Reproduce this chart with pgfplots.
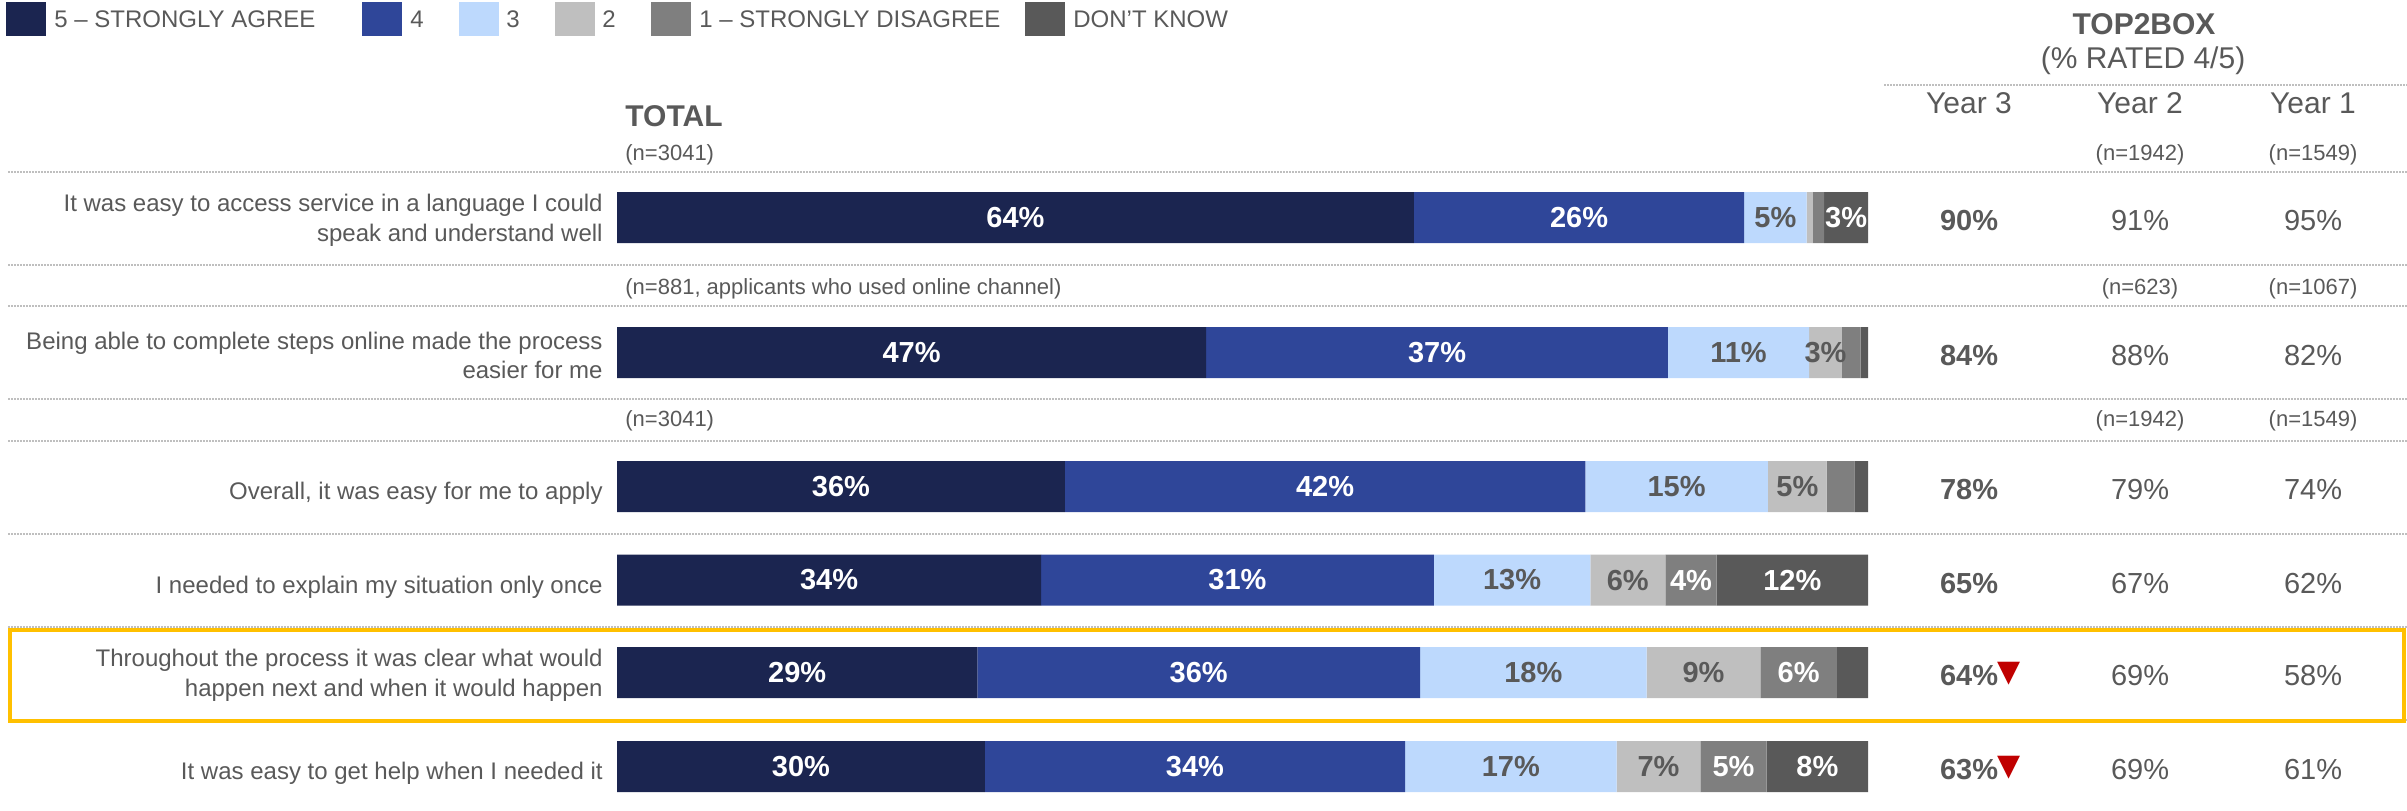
\documentclass[border=0pt]{standalone}
\usepackage{fontspec}
\setmainfont{Liberation Sans}
\newfontfamily\symfont{DejaVu Sans}
\usepackage{pgfplots}
\usepackage{pgfplotstable}
\pgfplotsset{compat=1.18}

\definecolor{cfive}{HTML}{1B2550}
\definecolor{cfour}{HTML}{2F4699}
\definecolor{cthree}{HTML}{BDD9FD}
\definecolor{ctwo}{HTML}{BFBFBF}
\definecolor{cone}{HTML}{7F7F7F}
\definecolor{cdk}{HTML}{595959}
\definecolor{txt}{HTML}{595959}
\definecolor{hl}{HTML}{FFC000}
\definecolor{down}{HTML}{C00000}
\definecolor{rulec}{HTML}{BFBFBF}

% y = row centre (px from top), v = segment share (%), lab = printed label (n = none)
\pgfplotstableread{
y v lab
217.5 63.7 64
352.5 47.1 47
486.5 35.8 36
580.0 33.9 34
672.5 28.8 29
766.5 29.4 30
}\tfive
\pgfplotstableread{
y v lab
217.5 26.4 26
352.5 36.9 37
486.5 41.6 42
580.0 31.4 31
672.5 35.4 36
766.5 33.6 34
}\tfour
\pgfplotstableread{
y v lab
217.5 5.0 5
352.5 11.3 11
486.5 14.6 15
580.0 12.5 13
672.5 18.1 18
766.5 16.9 17
}\tthree
\pgfplotstableread{
y v lab
217.5 0.5 n
352.5 2.6 3
486.5 4.7 5
580.0 6.0 6
672.5 9.1 9
766.5 6.7 7
}\ttwo
\pgfplotstableread{
y v lab
217.5 0.9 n
352.5 1.5 n
486.5 2.2 n
580.0 4.1 4
672.5 6.1 6
766.5 5.3 5
}\tone
\pgfplotstableread{
y v lab
217.5 3.5 3
352.5 0.6 n
486.5 1.1 n
580.0 12.1 12
672.5 2.5 n
766.5 8.1 8
}\tdk

\newcommand\barlab[1]{\edef\tmpa{#1}\def\tmpb{n}\ifx\tmpa\tmpb\else\tmpa\%\fi}

\pgfplotsset{
  seg/.style n args={2}{fill=#1, draw=none,
    nodes near coords={\barlab{\pgfplotspointmeta}},
    point meta=explicit symbolic,
    every node near coord/.append style={anchor=center, text=#2,
      font=\fontsize{14.5}{16}\selectfont\bfseries, inner sep=0pt},
  },
}

\begin{document}
\begin{tikzpicture}
\begin{scope}[x=0.5pt,y=-0.5pt]
\path[use as bounding box] (0,0) rectangle (2407,810);
\foreach \yy in {172,265,306,399,441,534,627,720}
  \draw[rulec, line width=0.75pt, dash pattern=on 0.75pt off 0.75pt] (8,\yy) -- (2407,\yy);
\draw[rulec, line width=0.75pt, dash pattern=on 0.75pt off 0.75pt] (1884,85) -- (2407,85);
\end{scope}

\begin{axis}[at={(308.5pt,0pt)}, anchor=north west, scale only axis,
  width=625.5pt, height=405pt, xmin=0, xmax=100, ymin=0, ymax=810,
  y dir=reverse, hide axis, xbar stacked, bar width=25.5pt,
  clip=false, enlargelimits=false]
\addplot[seg={cfive}{white}] table[x=v,y=y,meta=lab]{\tfive};
\addplot[seg={cfour}{white}] table[x=v,y=y,meta=lab]{\tfour};
\addplot[seg={cthree}{txt}] table[x=v,y=y,meta=lab]{\tthree};
\addplot[seg={ctwo}{txt}] table[x=v,y=y,meta=lab]{\ttwo};
\addplot[seg={cone}{white}] table[x=v,y=y,meta=lab]{\tone};
\addplot[seg={cdk}{white}] table[x=v,y=y,meta=lab]{\tdk};
\end{axis}

\begin{scope}[x=0.5pt,y=-0.5pt]
% legend
\foreach \xx/\cc in {6/cfive,362/cfour,459/cthree,555/ctwo,651/cone,1025/cdk}
  \fill[\cc] (\xx,2) rectangle ++(40,34);
\begin{scope}[every node/.style={anchor=base west, inner sep=0pt, text=txt, font=\fontsize{12}{14}\selectfont}]
\node at (54,27) {5 – STRONGLY AGREE};
\node at (410,27) {4};
\node at (506,27) {3};
\node at (602,27) {2};
\node at (699,27) {1 – STRONGLY DISAGREE};
\node at (1073,27) {DON’T KNOW};
\end{scope}

% headers
\node[anchor=base west, inner sep=0pt, text=txt, font=\fontsize{15}{17}\selectfont\bfseries] at (625,126) {TOTAL};
\node[anchor=base, inner sep=0pt, text=txt, font=\fontsize{15}{17}\selectfont\bfseries] at (2144,34) {TOP2BOX};
\node[anchor=base, inner sep=0pt, text=txt, font=\fontsize{15}{17}\selectfont] at (2143,68) {(\% RATED 4/5)};
\begin{scope}[every node/.style={anchor=base, inner sep=0pt, text=txt, font=\fontsize{15}{17}\selectfont}]
\node at (1969,113) {Year 3};
\node at (2140,113) {Year 2};
\node at (2313,113) {Year 1};
\end{scope}

% sample sizes
\begin{scope}[every node/.style={inner sep=0pt, text=txt, font=\fontsize{11}{13}\selectfont}]
\node[anchor=base west] at (625,160) {(n=3041)};
\node[anchor=base] at (2140,160) {(n=1942)};
\node[anchor=base] at (2313,160) {(n=1549)};
\node[anchor=base west] at (625,294) {(n=881, applicants who used online channel)};
\node[anchor=base] at (2140,294) {(n=623)};
\node[anchor=base] at (2313,294) {(n=1067)};
\node[anchor=base west] at (625,426) {(n=3041)};
\node[anchor=base] at (2140,426) {(n=1942)};
\node[anchor=base] at (2313,426) {(n=1549)};
\end{scope}

% row labels
\begin{scope}[every node/.style={anchor=east, align=right, inner sep=0pt, text=txt, font=\fontsize{12}{14.75}\selectfont}]
\node at (603,220.5) {It was easy to access service in a language I could\\speak and understand well};
\node at (603,355.5) {Being able to complete steps online made the process\\easier for me};
\node at (603,493.5) {Overall, it was easy for me to apply};
\node at (603,587) {I needed to explain my situation only once};
\node at (603,675.5) {Throughout the process it was clear what would\\happen next and when it would happen};
\node at (603,773.5) {It was easy to get help when I needed it};
\end{scope}

% top2box values
\foreach \c/\a/\b/\d in {217.5/90/91/95, 352.5/84/88/82, 486.5/78/79/74, 580/65/67/62, 672.5/64/69/58, 766.5/63/69/61}{
  \node[anchor=base, inner sep=0pt, text=txt, font=\fontsize{14.5}{16}\selectfont\bfseries] at (1969,\c+13) {\a\%};
  \node[anchor=base, inner sep=0pt, text=txt, font=\fontsize{14.5}{16}\selectfont] at (2140,\c+13) {\b\%};
  \node[anchor=base, inner sep=0pt, text=txt, font=\fontsize{14.5}{16}\selectfont] at (2313,\c+13) {\d\%};
}
\node[anchor=west, inner sep=0pt, text=down, font=\symfont\fontsize{15}{15}\selectfont] at (1997,674) {▼};
\node[anchor=west, inner sep=0pt, text=down, font=\symfont\fontsize{15}{15}\selectfont] at (1997,768) {▼};

% highlight box
\draw[hl, line width=2pt] (10,630) rectangle (2404,721);
\end{scope}
\end{tikzpicture}
\end{document}
